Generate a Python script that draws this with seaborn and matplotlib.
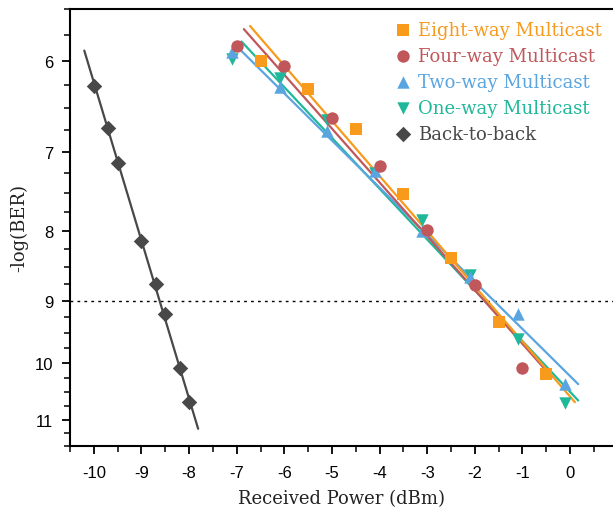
import matplotlib
matplotlib.use("Agg")
import matplotlib.pyplot as plt
import matplotlib.ticker as mticker
import numpy as np
import pandas as pd
import seaborn as sns

# measured points (received power in dBm, -log(BER))
eight_x = [-6.5, -5.5, -4.5, -3.5, -2.5, -1.5, -0.5]
eight_y = [6.00, 6.30, 6.74, 7.51, 8.38, 9.33, 10.19]
four_x = [-7.0, -6.0, -5.0, -4.0, -3.0, -2.0, -1.0]
four_y = [5.85, 6.06, 6.61, 7.17, 7.99, 8.77, 10.08]
two_x = [-7.1, -6.1, -5.1, -4.1, -3.1, -2.1, -1.1, -0.1]
two_y = [5.91, 6.27, 6.76, 7.23, 8.00, 8.64, 9.20, 10.36]
one_x = [-7.1, -6.1, -5.1, -4.1, -3.1, -2.1, -1.1, -0.1]
one_y = [5.98, 6.18, 6.63, 7.25, 7.85, 8.62, 9.60, 10.69]
b2b_x = [-10.0, -9.7, -9.5, -9.0, -8.7, -8.5, -8.2, -8.0]
b2b_y = [6.26, 6.72, 7.13, 8.14, 8.75, 9.21, 10.08, 10.68]

# fitted lines, end points
eight_fit_x = [-6.72, 0.10]
eight_fit_y = [5.66, 10.68]
four_fit_x = [-6.85, -0.38]
four_fit_y = [5.69, 10.24]
two_fit_x = [-6.93, 0.17]
two_fit_y = [5.89, 10.36]
one_fit_x = [-6.90, 0.17]
one_fit_y = [5.81, 10.65]
b2b_fit_x = [-10.2, -7.81]
b2b_fit_y = [5.90, 11.17]

labels = ["Eight-way Multicast", "Four-way Multicast", "Two-way Multicast",
          "One-way Multicast", "Back-to-back"]
colors = ["#F89A1C", "#C0575A", "#5AA5E0", "#20B89A", "#484848"]
markers = ["s", "o", "^", "v", "D"]
sizes = [70, 80, 80, 80, 62]

pts = [(eight_x, eight_y), (four_x, four_y), (two_x, two_y),
       (one_x, one_y), (b2b_x, b2b_y)]
fits = [(eight_fit_x, eight_fit_y), (four_fit_x, four_fit_y),
        (two_fit_x, two_fit_y), (one_fit_x, one_fit_y),
        (b2b_fit_x, b2b_fit_y)]

sns.set_style("ticks")
plt.rcParams["font.family"] = ["Liberation Sans", "DejaVu Sans"]

fig = plt.figure(figsize=(6.13, 5.10), dpi=100)
ax = fig.add_axes([70 / 613, 63 / 510, 543 / 613, 437 / 510])

ax.set_yscale("log")

# lines first, then markers on top (back-to-back drawn last)
order = [3, 2, 1, 0, 4]
handles = {}
for i in order:
    fx, fy = fits[i]
    df_fit = pd.DataFrame({"x": fx, "y": fy})
    sns.lineplot(data=df_fit, x="x", y="y", ax=ax, color=colors[i],
                 linewidth=1.6, zorder=2)
for i in order:
    px, py = pts[i]
    df_pts = pd.DataFrame({"x": px, "y": py})
    sns.scatterplot(data=df_pts, x="x", y="y", ax=ax, color=colors[i],
                    marker=markers[i], s=sizes[i], linewidth=0, zorder=3)
    handles[i] = ax.collections[-1]

ax.axhline(9, color="black", linestyle=(0, (2, 3)), linewidth=1.0, zorder=1)

ax.set_xlim(-10.5, 0.9)
ax.set_ylim(11.5, 5.5)

ax.xaxis.set_major_locator(mticker.MultipleLocator(1))
ax.xaxis.set_minor_locator(mticker.MultipleLocator(0.5))
ax.xaxis.set_major_formatter(mticker.FuncFormatter(lambda v, p: "%d" % round(v)))

ax.yaxis.set_major_locator(mticker.FixedLocator([6, 7, 8, 9, 10, 11]))
ax.yaxis.set_major_formatter(mticker.FixedFormatter(["6", "7", "8", "9", "10", "11"]))
minor_y = [v for v in np.arange(5.5, 11.51, 0.25) if abs(v - round(v)) > 0.01]
ax.yaxis.set_minor_locator(mticker.FixedLocator(minor_y))
ax.yaxis.set_minor_formatter(mticker.NullFormatter())

ax.tick_params(axis="both", which="major", direction="out", length=6,
               width=1.3, labelsize=12, colors="black")
ax.tick_params(axis="both", which="minor", direction="out", length=4,
               width=1.3)
ax.tick_params(axis="x", pad=8)
ax.tick_params(axis="y", pad=6)

for side in ["left", "bottom", "top"]:
    ax.spines[side].set_linewidth(1.5)
    ax.spines[side].set_color("black")
ax.spines["right"].set_visible(False)

ax.set_xlabel("Received Power (dBm)", family="DejaVu Serif", fontsize=13,
              color="#222222", labelpad=6)
ax.set_ylabel("-log(BER)", family="DejaVu Serif", fontsize=13,
              color="#222222", labelpad=5)

leg = ax.legend([handles[i] for i in range(5)], labels, loc="upper right",
                bbox_to_anchor=(1.0, 0.998), frameon=False,
                prop={"family": "DejaVu Serif", "size": 13},
                handletextpad=0.35, labelspacing=0.45, handlelength=1.0,
                borderaxespad=0.2)
for text, c in zip(leg.get_texts(), colors):
    text.set_color(c)

fig.savefig("out.png", dpi=100)
